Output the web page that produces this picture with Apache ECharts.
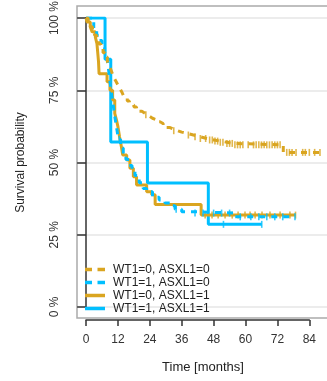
<!DOCTYPE html>
<html>
<head>
<meta charset="utf-8">
<script src="https://cdn.jsdelivr.net/npm/echarts@6/dist/echarts.min.js"></script>
<style>
  html, body { margin: 0; padding: 0; background: #fff; }
  #chart { width: 327px; height: 381px; }
</style>
</head>
<body>
<div id="chart"></div>
<script>
// Kaplan-Meier step curves: time (months) and survival after each event
const groupNames = ['WT1=0, ASXL1=0', 'WT1=1, ASXL1=0', 'WT1=0, ASXL1=1', 'WT1=1, ASXL1=1'];
const colors = ['#DAA520', '#00BFFF', '#DAA520', '#00BFFF'];

const timesA = [0, 0.8, 1.6, 2.4, 3.2, 4, 4.8, 5.6, 6.4, 7.2, 8, 8.7, 9.4, 10, 10.6, 11.3, 12, 12.7, 13.4, 14, 14.7, 15.5, 16.3, 17, 18, 19, 20, 21, 22, 23, 24, 25, 26.5, 27.8, 29, 30.3, 31.6, 33, 34.5, 36, 38, 40.4, 43, 45.4, 48, 50.4, 53, 55.4, 74.2, 88];
const survA  = [1, 0.985, 0.97, 0.955, 0.94, 0.925, 0.91, 0.895, 0.88, 0.865, 0.85, 0.835, 0.82, 0.805, 0.792, 0.78, 0.768, 0.757, 0.745, 0.733, 0.722, 0.713, 0.706, 0.699, 0.692, 0.684, 0.677, 0.671, 0.665, 0.659, 0.653, 0.648, 0.641, 0.635, 0.628, 0.621, 0.615, 0.61, 0.605, 0.601, 0.595, 0.589, 0.583, 0.578, 0.574, 0.57, 0.566, 0.561, 0.535, 0.535];
const censorA = [22.5, 33, 38.5, 41, 43, 45, 46.5, 47.5, 48.5, 49.5, 50.5, 51.5, 53, 54, 55, 56, 57, 58, 59, 61, 63, 64, 65, 66, 67, 68, 69, 70, 71, 72, 73, 75.5, 76.5, 77.5, 79, 81.5, 82.5, 84, 86, 88];

const timesB = [0, 2.9, 4.0, 4.8, 6, 7, 7.9, 8.5, 9, 9.6, 10.2, 10.8, 11.5, 12.2, 13, 14, 15, 16.2, 17.3, 18.4, 20, 21.5, 22.8, 25, 27.5, 29.7, 31.5, 33.5, 36, 40.4, 56, 78.6];
const survB  = [1, 0.965, 0.94, 0.922, 0.9, 0.88, 0.862, 0.82, 0.78, 0.74, 0.7, 0.66, 0.62, 0.58, 0.55, 0.53, 0.51, 0.49, 0.47, 0.455, 0.43, 0.41, 0.399, 0.38, 0.37, 0.36, 0.35, 0.338, 0.33, 0.325, 0.312, 0.312];
const censorB = [12.5, 33.9, 41, 44, 48, 51, 54, 58, 62, 65, 68, 71, 74, 78.6];

const timesC = [0, 0.4, 1.6, 2.3, 3.5, 4.1, 4.4, 4.7, 4.9, 7.9, 9.0, 10.0, 10.8, 11.5, 12.0, 12.6, 13.2, 13.8, 15.3, 16.5, 17.8, 19.0, 22.8, 24.7, 26, 43.3, 78.8];
const survC  = [1, 0.986, 0.969, 0.952, 0.934, 0.911, 0.88, 0.848, 0.807, 0.779, 0.75, 0.716, 0.67, 0.645, 0.624, 0.589, 0.56, 0.526, 0.509, 0.48, 0.451, 0.422, 0.399, 0.388, 0.355, 0.318, 0.318];
const censorC = [44.8, 47.4, 49.7, 52.3, 55, 57.2, 59.8, 61.7, 63.6, 66.2, 69.2, 73, 76.7, 78.8];

const timesD = [0, 7.15, 9.3, 23.1, 46.0, 66.1];
const survD  = [1, 0.857, 0.571, 0.429, 0.286, 0.286];
const censorD = [51.7, 66.1];

const xTicks = [0, 12, 24, 36, 48, 60, 72, 84];

const stepData = (t, s) => t.map((v, i) => [v, s[i]]);
const survAt = (t, s, x) => {
  let v = s[0];
  for (let i = 0; i < t.length; i++) if (t[i] <= x) v = s[i];
  return v;
};
const censorData = (t, s, c) => c.map(x => [x, survAt(t, s, x)]);

const curves = [
  { t: timesA, s: survA, c: censorA, dashed: true },
  { t: timesB, s: survB, c: censorB, dashed: true },
  { t: timesC, s: survC, c: censorC, dashed: false },
  { t: timesD, s: survD, c: censorD, dashed: false }
];

// legend keys: two short dashes or one solid bar
const dashedIcon = 'path://M0,0h7v3.5h-7zM12.5,0h7.5v3.5h-7.5z';
const solidIcon = 'path://M0,0h20v3.5h-20z';

const font = 'Liberation Sans, Arial, Helvetica, sans-serif';
const series = [];
curves.forEach((cv, i) => {
  series.push({
    name: groupNames[i],
    type: 'line',
    xAxisIndex: 1, yAxisIndex: 1,
    step: 'end',
    symbol: 'none',
    data: stepData(cv.t, cv.s),
    z: 10 - i,
    lineStyle: { color: colors[i], width: 3, type: cv.dashed ? [6, 6] : 'solid', cap: 'butt' },
    itemStyle: { color: colors[i] }
  });
});
curves.forEach((cv, i) => {
  series.push({
    name: groupNames[i] + ' censored',
    type: 'scatter',
    xAxisIndex: 1, yAxisIndex: 1,
    symbol: 'rect',
    symbolSize: [1.6, 7],
    data: censorData(cv.t, cv.s, cv.c),
    itemStyle: { color: colors[i] },
    silent: true,
    z: 10 - i
  });
});

const chart = echarts.init(document.getElementById('chart'), null, { renderer: 'canvas' });
chart.setOption({
  animation: false,
  backgroundColor: '#fff',
  textStyle: { fontFamily: font },
  grid: [
    // outer box
    { left: 77, right: -6, top: 6, bottom: 63, outerBoundsMode: 'none', show: true, borderColor: '#aaaaaa', borderWidth: 1.5, backgroundColor: 'transparent' },
    // plotting region, 0..1 in y
    { left: 77, right: -2, top: 18, bottom: 74, outerBoundsMode: 'none' },
    // time axis, 0..84 months
    { left: 86, right: 17.7, top: 18, bottom: 61, outerBoundsMode: 'none' }
  ],
  xAxis: [
    { gridIndex: 0, type: 'value', min: 0, max: 1,
      axisLine: { show: false }, axisTick: { show: false }, axisLabel: { show: false }, splitLine: { show: false } },
    { gridIndex: 1, type: 'value', min: -3.4, max: 91.4,
      axisLine: { show: false }, axisTick: { show: false }, axisLabel: { show: false }, splitLine: { show: false },
      name: 'Time [months]', nameLocation: 'middle', nameGap: 54,
      nameTextStyle: { fontSize: 13, color: '#222', fontFamily: font } },
    { gridIndex: 2, type: 'value', min: 0, max: 84, interval: 12,
      axisLine: { show: true, lineStyle: { color: '#333', width: 1.5 } },
      axisTick: { show: true, length: 6, lineStyle: { color: '#333', width: 1.5 } },
      axisLabel: { fontSize: 12, color: '#333', margin: 14, fontFamily: font,
        customValues: xTicks },
      splitLine: { show: false } }
  ],
  yAxis: [
    { gridIndex: 0, type: 'value', min: 0, max: 1, show: false },
    { gridIndex: 1, type: 'value', min: 0, max: 1, interval: 0.25,
      axisLine: { show: true, lineStyle: { color: '#333', width: 1.5 } },
      axisTick: { show: true, length: 9, lineStyle: { color: '#333', width: 1.5 } },
      axisLabel: { fontSize: 12, color: '#333', rotate: 90, margin: 16, fontFamily: font,
        formatter: v => Math.round(v * 100) + ' %' },
      splitLine: { show: true, lineStyle: { color: '#e6e6e6', width: 1.5 } },
      name: 'Survival probability', nameLocation: 'middle', nameGap: 50, nameRotate: 90,
      nameTextStyle: { fontSize: 12, color: '#222', fontFamily: font } },
    { gridIndex: 2, type: 'value', min: 0, max: 1, show: false }
  ],
  legend: {
    data: groupNames.map((n, i) => ({
      name: n,
      icon: curves[i].dashed ? dashedIcon : solidIcon,
      itemStyle: { color: colors[i] }
    })),
    orient: 'vertical',
    left: 85, top: 263,
    itemWidth: 20, itemHeight: 3.5, itemGap: 0,
    padding: 0,
    textStyle: { fontSize: 12, color: '#222', fontFamily: font, lineHeight: 13, padding: [0, 0, 0, 3] },
    selectedMode: false
  },
  series: series
});
</script>
</body>
</html>
